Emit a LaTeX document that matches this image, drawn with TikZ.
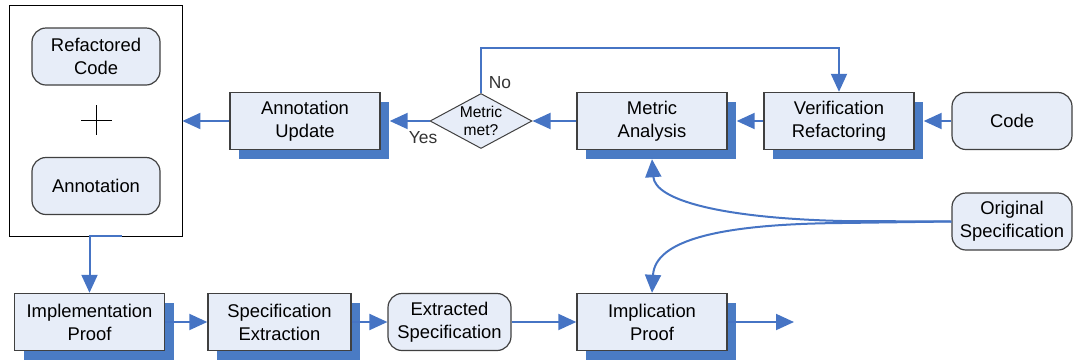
\documentclass[tikz,border=0pt]{standalone}
\usepackage{fontspec}
\setmainfont{Liberation Sans}
\usetikzlibrary{arrows.meta,shapes.geometric,shadows}

\definecolor{boxfill}{RGB}{231,237,248}
\definecolor{shadowblue}{RGB}{74,123,196}
\definecolor{flowblue}{RGB}{70,116,196}

\tikzset{
  proc/.style={rectangle,draw=black!75,line width=0.7pt,fill=boxfill,minimum width=75pt,minimum height=28.5pt,inner sep=1pt,align=center,
    general shadow={fill=shadowblue,shadow xshift=4.5pt,shadow yshift=-4.5pt}},
  datum/.style={rectangle,rounded corners=7pt,draw=black!75,line width=0.6pt,fill=boxfill,minimum width=64pt,minimum height=28.5pt,inner sep=1pt,align=center},
  flow/.style={draw=flowblue,line width=1pt,-{Triangle[length=9pt,width=8pt]}}
}

\begin{document}
\begin{tikzpicture}[x=0.5pt,y=-0.5pt,font=\fontsize{9.2}{11.5}\selectfont]
  \useasboundingbox (0,0) rectangle (1073,360);

  \node[draw=black,line width=0.4pt,minimum width=86.5pt,minimum height=115.5pt,inner sep=0pt] (out) at (95.5,120.5) {};
  \node[datum] (rc) at (96,56.5) {Refactored\\Code};
  \node[datum] (an) at (96,186) {Annotation};
  \draw[line width=0.5pt] (81,120) -- (112,120) (96.5,105) -- (96.5,135);

  \node[proc] (au) at (305,121) {Annotation\\Update};
  \node[diamond,draw=black!75,line width=0.5pt,fill=boxfill,minimum width=51pt,minimum height=27.5pt,inner sep=-4pt,align=center,
        font=\fontsize{7.8}{8.6}\selectfont] (mm) at (481,121) {Metric\\met?};
  \node[proc] (ma) at (652,121) {Metric\\Analysis};
  \node[proc] (vr) at (839,121) {Verification\\Refactoring};
  \node[datum,minimum width=60pt] (cd) at (1012,121) {Code};
  \node[datum,minimum width=60pt] (os) at (1012,221.5) {Original\\Specification};

  \node[proc] (ip) at (89.5,322) {Implementation\\Proof};
  \node[proc,minimum width=71.5pt] (se) at (279.5,322) {Specification\\Extraction};
  \node[datum,minimum width=61.5pt] (es) at (449.5,322) {Extracted\\Specification};
  \node[proc] (pp) at (652,322) {Implication\\Proof};
  \coordinate (done) at (794,322);

  \node[text=black!80,font=\fontsize{8.7}{10}\selectfont] (yes) at (423,138) {Yes};
  \node[text=black!80,font=\fontsize{8.7}{10}\selectfont] (no) at (500,83) {No};

  \draw[flow] (cd.west) -- ([xshift=4.5pt]vr.east);
  \draw[flow] (vr.west) -- ([xshift=4.5pt]ma.east);
  \draw[flow] (ma.west) -- (mm.east);
  \draw[flow] (mm.west) -- ([xshift=4.5pt]au.east);
  \draw[flow] (au.west) -- (au.west -| out.east);
  \draw[flow] (mm.north) -- ++(0,-45) -| (vr.north);
  % spec feeds both the analysis and the proof
  \draw[flow] (os.west) -- (842,221) .. controls (720,218) and (655,200) .. ([yshift=-4.5pt]ma.south);
  \draw[flow] (os.west) -- (842,223) .. controls (720,224) and (655,240) .. (pp.north);

  \draw[flow] ([xshift=13pt]out.south) -| (ip.north);
  \draw[flow] (ip.east) -- (se.west);
  \draw[flow] (se.east) -- (es.west);
  \draw[flow] (es.east) -- (pp.west);
  \draw[flow] (pp.east) -- (done);
\end{tikzpicture}
\end{document}
